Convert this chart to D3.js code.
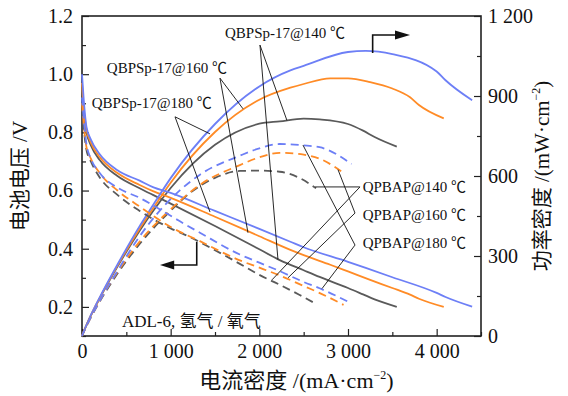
<!DOCTYPE html>
<html lang="zh">
<head>
<meta charset="utf-8">
<title>电池极化曲线</title>
<script src="https://d3js.org/d3.v7.min.js"></script>
<style>
  body { margin: 0; background: #fff; }
  svg text { font-family: "Liberation Serif", "Noto Sans CJK SC", serif; fill: #111; }
</style>
</head>
<body>
<div id="chart"></div>
<script>
// Data: current density (mA/cm2), voltage (V), power density (mW/cm2)
const qbps180I = [0, 20, 50, 100, 200, 400, 650, 800, 1000, 1500, 2000, 2350, 2500, 3000, 3200, 3500, 4000, 4100, 4400];
const qbps180V = [1.0, 0.91, 0.82, 0.775, 0.725, 0.67, 0.634, 0.612, 0.592, 0.53, 0.468, 0.424, 0.405, 0.355, 0.334, 0.302, 0.248, 0.234, 0.201];
const qbps180P = [0, 18, 41, 78, 145, 268, 412, 490, 592, 795, 936, 996, 1013, 1065, 1069, 1057, 992, 959, 884];

const qbps160I = [0, 20, 50, 100, 200, 400, 650, 800, 1000, 1500, 2000, 2350, 2500, 2800, 3000, 3250, 3500, 3700, 3800, 4080];
const qbps160V = [0.97, 0.88, 0.81, 0.765, 0.715, 0.66, 0.619, 0.598, 0.575, 0.51, 0.443, 0.396, 0.378, 0.345, 0.322, 0.293, 0.265, 0.242, 0.228, 0.2];
const qbps160P = [0, 18, 41, 77, 143, 264, 402, 478, 575, 765, 886, 931, 945, 966, 966, 952, 928, 895, 866, 816];

const qbps140I = [0, 20, 50, 100, 200, 400, 650, 800, 1000, 1500, 2000, 2230, 2500, 2680, 3000, 3170, 3300, 3550];
const qbps140V = [0.95, 0.86, 0.8, 0.755, 0.705, 0.65, 0.608, 0.585, 0.555, 0.478, 0.398, 0.361, 0.326, 0.303, 0.265, 0.243, 0.226, 0.2];
const qbps140P = [0, 17, 40, 76, 141, 260, 395, 468, 555, 717, 796, 805, 815, 812, 795, 770, 746, 710];

const qpbap180I = [0, 50, 100, 200, 400, 650, 880, 1100, 1330, 1780, 2000, 2230, 2490, 2680, 3040];
const qpbap180V = [0.92, 0.76, 0.71, 0.66, 0.61, 0.575, 0.535, 0.495, 0.455, 0.38, 0.352, 0.323, 0.287, 0.264, 0.212];
const qpbap180P = [0, 38, 71, 132, 244, 374, 471, 545, 605, 676, 704, 720, 715, 708, 645];

const qpbap160I = [0, 50, 100, 200, 400, 650, 1000, 1330, 1780, 2000, 2230, 2500, 2700, 2950];
const qpbap160V = [0.9, 0.75, 0.71, 0.66, 0.6, 0.545, 0.475, 0.426, 0.36, 0.335, 0.308, 0.272, 0.245, 0.207];
const qpbap160P = [0, 38, 71, 132, 240, 354, 475, 567, 641, 670, 687, 680, 662, 611];

const qpbap140I = [0, 50, 100, 200, 400, 650, 1000, 1220, 1500, 1780, 2000, 2230, 2450, 2640];
const qpbap140V = [0.88, 0.74, 0.7, 0.645, 0.585, 0.53, 0.47, 0.44, 0.395, 0.348, 0.31, 0.276, 0.242, 0.21];
const qpbap140P = [0, 37, 70, 129, 234, 345, 470, 537, 593, 619, 620, 616, 593, 554];

// Tick values
const xTicks = [0, 1000, 2000, 3000, 4000];
const xMinor = [500, 1500, 2500, 3500, 4500];
const vTicks = [0.2, 0.4, 0.6, 0.8, 1.0, 1.2];
const vMinor = [0.1, 0.3, 0.5, 0.7, 0.9, 1.1];
const pTicks = [0, 300, 600, 900, 1200];
const pMinor = [150, 450, 750, 1050];

// Chart dimensions
const width = 568, height = 396;
const plot = { left: 82, top: 16, right: 481, bottom: 336 };

const blue = "#6d7ff6", orange = "#ff8b26", gray = "#5a5a5a";

const svg = d3.select("#chart")
    .append("svg")
    .attr("width", width)
    .attr("height", height);

// Scales
const x = d3.scaleLinear().domain([0, 4500]).range([plot.left, plot.right]);
const yV = d3.scaleLinear().domain([0.1, 1.2]).range([plot.bottom, plot.top]);
const yP = d3.scaleLinear().domain([0, 1200]).range([plot.bottom, plot.top]);

const spaced = d => d3.format(",")(d).replace(",", " ");

// Axes
function addAxis(axis, tx, ty) {
    const g = svg.append("g")
        .attr("transform", `translate(${tx},${ty})`)
        .call(axis)
        .attr("font-size", 20)
        .attr("font-family", null);
    g.select(".domain").remove();
    g.selectAll("line").attr("stroke", "#222").attr("stroke-width", 1.2);
    return g;
}

addAxis(d3.axisBottom(x).tickValues(xTicks).tickSize(-7).tickPadding(8).tickFormat(spaced), 0, plot.bottom);
addAxis(d3.axisBottom(x).tickValues(xMinor).tickSize(-4).tickFormat(""), 0, plot.bottom);
addAxis(d3.axisLeft(yV).tickValues(vTicks).tickSize(-7).tickPadding(9).tickFormat(d3.format(".1f")), plot.left, 0);
addAxis(d3.axisLeft(yV).tickValues(vMinor).tickSize(-4).tickFormat(""), plot.left, 0);
addAxis(d3.axisRight(yP).tickValues(pTicks).tickSize(-7).tickPadding(7).tickFormat(spaced), plot.right, 0);
addAxis(d3.axisRight(yP).tickValues(pMinor).tickSize(-4).tickFormat(""), plot.right, 0);

// Frame
svg.append("rect")
    .attr("x", plot.left)
    .attr("y", plot.top)
    .attr("width", plot.right - plot.left)
    .attr("height", plot.bottom - plot.top)
    .attr("fill", "none")
    .attr("stroke", "#222")
    .attr("stroke-width", 1.6);

// Draw data
const series = [
    { I: qbps140I, V: qbps140V, P: qbps140P, color: gray, dash: null },
    { I: qbps160I, V: qbps160V, P: qbps160P, color: orange, dash: null },
    { I: qbps180I, V: qbps180V, P: qbps180P, color: blue, dash: null },
    { I: qpbap140I, V: qpbap140V, P: qpbap140P, color: gray, dash: "8,5" },
    { I: qpbap160I, V: qpbap160V, P: qpbap160P, color: orange, dash: "8,5" },
    { I: qpbap180I, V: qpbap180V, P: qpbap180P, color: blue, dash: "8,5" }
];

const lineV = d3.line().x(d => x(d[0])).y(d => yV(d[1])).curve(d3.curveMonotoneX);
const lineP = d3.line().x(d => x(d[0])).y(d => yP(d[1])).curve(d3.curveMonotoneX);

series.forEach(s => {
    const pv = s.I.map((c, i) => [c, s.V[i]]);
    const pp = s.I.map((c, i) => [c, s.P[i]]);
    [[pv, lineV], [pp, lineP]].forEach(([pts, gen]) => {
        svg.append("path")
            .datum(pts)
            .attr("d", gen)
            .attr("fill", "none")
            .attr("stroke", s.color)
            .attr("stroke-width", 1.8)
            .attr("stroke-dasharray", s.dash);
    });
});

// Labels with pointer lines: apex (I, P), then two targets on curves
const labels = [
    { text: "QBPSp-17@140 ℃", tx: 1613, ty: 1117, apex: [2007, 1091], to: [[2312, 808, "P"], [2210, 0.363, "V"]] },
    { text: "QBPSp-17@160 ℃", tx: 280, ty: 985, apex: [1556, 967], to: [[1816, 852, "P"], [1872, 0.455, "V"]] },
    { text: "QBPSp-17@180 ℃", tx: 110, ty: 855, apex: [1049, 822], to: [[1444, 758, "P"], [1444, 0.526, "V"]] },
    { text: "QPBAP@140 ℃", tx: 3165, ty: 540, apex: [3135, 559], to: [[2630, 559, "P"], [2143, 0.293, "V"]] },
    { text: "QPBAP@160 ℃", tx: 3165, ty: 435, apex: [3079, 461], to: [[2887, 624, "P"], [2323, 0.30, "V"]] },
    { text: "QPBAP@180 ℃", tx: 3165, ty: 330, apex: [3079, 341], to: [[2492, 716, "P"], [2707, 0.263, "V"]] }
];

const notes = svg.append("g");
labels.forEach(l => {
    l.to.forEach(t => {
        notes.append("line")
            .attr("x1", x(l.apex[0]))
            .attr("y1", yP(l.apex[1]))
            .attr("x2", x(t[0]))
            .attr("y2", t[2] === "P" ? yP(t[1]) : yV(t[1]))
            .attr("stroke", "#111")
            .attr("stroke-width", 0.9);
    });
    notes.append("text")
        .attr("x", x(l.tx))
        .attr("y", yP(l.ty))
        .attr("font-size", 15)
        .text(l.text);
});

// Arrows: power axis (right) and voltage axis (left)
const arrowR = d3.path();
arrowR.moveTo(x(3278), yP(1061));
arrowR.lineTo(x(3278), yP(1129));
arrowR.lineTo(x(3540), yP(1129));
notes.append("path").attr("d", arrowR.toString()).attr("fill", "none").attr("stroke", "#111").attr("stroke-width", 1.6);
notes.append("path")
    .attr("d", `M${x(3530)},${yP(1129) - 4.5}L${x(3700)},${yP(1129)}L${x(3530)},${yP(1129) + 4.5}Z`)
    .attr("fill", "#111");

const arrowL = d3.path();
arrowL.moveTo(x(1294), yV(0.424));
arrowL.lineTo(x(1294), yV(0.344));
arrowL.lineTo(x(1030), yV(0.344));
notes.append("path").attr("d", arrowL.toString()).attr("fill", "none").attr("stroke", "#111").attr("stroke-width", 1.6);
notes.append("path")
    .attr("d", `M${x(1040)},${yV(0.344) - 4.5}L${x(880)},${yV(0.344)}L${x(1040)},${yV(0.344) + 4.5}Z`)
    .attr("fill", "#111");

svg.append("text")
    .attr("x", x(450))
    .attr("y", yV(0.131))
    .attr("font-size", 17)
    .text("ADL-6, 氢气 / 氧气");

// Axis titles
const xTitle = svg.append("text")
    .attr("x", (plot.left + plot.right) / 2 + 15)
    .attr("y", 388)
    .attr("text-anchor", "middle")
    .attr("font-size", 22);
xTitle.append("tspan").text("电流密度 /(mA·cm");
xTitle.append("tspan").attr("font-size", 12).attr("dy", -9).text("−2");
xTitle.append("tspan").attr("dy", 9).text(")");

svg.append("text")
    .attr("transform", `translate(27,${(plot.top + plot.bottom) / 2}) rotate(-90)`)
    .attr("text-anchor", "middle")
    .attr("font-size", 21)
    .text("电池电压 /V");

const rTitle = svg.append("text")
    .attr("transform", `translate(549,${(plot.top + plot.bottom) / 2}) rotate(-90)`)
    .attr("text-anchor", "middle")
    .attr("font-size", 21);
rTitle.append("tspan").text("功率密度 /(mW·cm");
rTitle.append("tspan").attr("font-size", 12).attr("dy", -9).text("−2");
rTitle.append("tspan").attr("dy", 9).text(")");
</script>
</body>
</html>
